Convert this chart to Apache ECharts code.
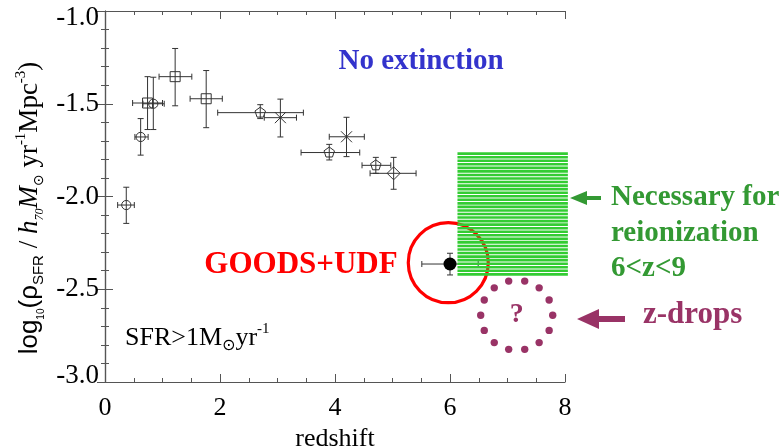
<!DOCTYPE html>
<html>
<head>
<meta charset="utf-8">
<script src="https://cdn.jsdelivr.net/npm/echarts@6/dist/echarts.min.js"></script>
<style>
  html, body { margin: 0; padding: 0; background: #fff; }
  #chart { width: 783px; height: 448px; }
</style>
</head>
<body>
<div id="chart"></div>
<script>
// Star-formation rate density vs redshift.
// Each row: [redshift, log10 rhoSFR, zLow, zHigh, logLow, logHigh]
const openCircles = [
  [0.37, -2.046, 0.22, 0.51, -2.145, -1.950],
  [0.62, -1.679, 0.52, 0.75, -1.777, -1.580],
  [0.84, -1.500, 0.66, 1.03, -1.639, -1.357]
];
const squares = [
  [0.74, -1.496, 0.48, 1.00, -1.639, -1.354],
  [1.22, -1.354, 0.94, 1.51, -1.511, -1.202],
  [1.76, -1.473, 1.48, 2.04, -1.629, -1.321]
];
const pentagons = [
  [2.70, -1.548, 1.96, 3.45, -1.580, -1.505],
  [3.90, -1.763, 3.41, 4.43, -1.803, -1.719],
  [4.71, -1.832, 4.47, 4.97, -1.875, -1.789]
];
const crosses = [
  [3.05, -1.575, 2.77, 3.33, -1.679, -1.475],
  [4.20, -1.678, 3.90, 4.51, -1.785, -1.573]
];
const diamonds = [
  [5.02, -1.875, 4.61, 5.41, -1.961, -1.789]
];
const goodsUdf = [
  [6.00, -2.364, 5.51, 6.49, -2.423, -2.306]
];
// Band needed for reionization at 6<z<9: [zStart, zEnd, logTop, logBottom]
const reionBand = [[6.13, 8.05, -1.762, -2.432]];
// Highlight rings: [redshift, log10 rhoSFR]
const goodsRing = [[5.97, -2.357]];
const zdropRing = [[7.16, -2.64]];

const xTicks = [0, 2, 4, 6, 8];
const yTicks = [-3.0, -2.5, -2.0, -1.5, -1.0];

const SERIF = '"Liberation Serif", "DejaVu Serif", serif';
const SANS = '"Liberation Sans", Arial, sans-serif';
const INK = '#333';

function markerShape(kind, x, y) {
  const st = { fill: 'none', stroke: INK, lineWidth: 1 };
  if (kind === 'circle') return { type: 'circle', shape: { cx: x, cy: y, r: 4.6 }, style: st };
  if (kind === 'filled') return { type: 'circle', shape: { cx: x, cy: y, r: 6.5 }, style: { fill: '#000' } };
  if (kind === 'square') return { type: 'rect', shape: { x: x - 5, y: y - 5, width: 10, height: 10 }, style: st };
  if (kind === 'diamond') return { type: 'polygon', shape: { points: [[x, y - 6.5], [x + 6.5, y], [x, y + 6.5], [x - 6.5, y]] }, style: st };
  if (kind === 'pentagon') {
    const pts = [];
    for (let i = 0; i < 5; i++) {
      const a = -Math.PI / 2 + i * 2 * Math.PI / 5;
      pts.push([x + 5.5 * Math.cos(a), y + 5.5 * Math.sin(a)]);
    }
    return { type: 'polygon', shape: { points: pts }, style: st };
  }
  // 'cross' : an X marker
  return {
    type: 'group', children: [
      { type: 'line', shape: { x1: x - 5.5, y1: y - 5.5, x2: x + 5.5, y2: y + 5.5 }, style: { stroke: INK, lineWidth: 1 } },
      { type: 'line', shape: { x1: x - 5.5, y1: y + 5.5, x2: x + 5.5, y2: y - 5.5 }, style: { stroke: INK, lineWidth: 1 } }
    ]
  };
}

function errorSeries(name, data, kind, z) {
  return {
    name: name,
    type: 'custom',
    data: data,
    z: z || 10,
    encode: { x: [0, 2, 3], y: [1, 4, 5] },
    renderItem: function (params, api) {
      const c = api.coord([api.value(0), api.value(1)]);
      const xl = api.coord([api.value(2), api.value(1)]);
      const xh = api.coord([api.value(3), api.value(1)]);
      const yl = api.coord([api.value(0), api.value(4)]);
      const yh = api.coord([api.value(0), api.value(5)]);
      const cap = 3;
      const ls = { stroke: INK, lineWidth: 1 };
      return {
        type: 'group',
        children: [
          { type: 'line', shape: { x1: xl[0], y1: c[1], x2: xh[0], y2: c[1] }, style: ls },
          { type: 'line', shape: { x1: xl[0], y1: c[1] - cap, x2: xl[0], y2: c[1] + cap }, style: ls },
          { type: 'line', shape: { x1: xh[0], y1: c[1] - cap, x2: xh[0], y2: c[1] + cap }, style: ls },
          { type: 'line', shape: { x1: c[0], y1: yl[1], x2: c[0], y2: yh[1] }, style: ls },
          { type: 'line', shape: { x1: c[0] - cap, y1: yl[1], x2: c[0] + cap, y2: yl[1] }, style: ls },
          { type: 'line', shape: { x1: c[0] - cap, y1: yh[1], x2: c[0] + cap, y2: yh[1] }, style: ls },
          markerShape(kind, c[0], c[1])
        ]
      };
    }
  };
}

const axisCommon = {
  type: 'value',
  axisLine: { show: true, lineStyle: { color: '#555', width: 1.2 } },
  axisTick: { show: true, inside: true, length: 8, lineStyle: { color: '#555' } },
  minorTick: { show: true, length: 4, lineStyle: { color: '#555' } },
  splitLine: { show: false }
};

// y tick labels: the end labels sit a little inside the frame
function yLabel(v) {
  const s = v.toFixed(1);
  if (v === yTicks[yTicks.length - 1]) return '{hi|' + s + '}';
  if (v === yTicks[0]) return '{lo|' + s + '}';
  return '{m|' + s + '}';
}

const chart = echarts.init(document.getElementById('chart'), null, { renderer: 'canvas' });

const option = {
  backgroundColor: '#fff',
  animation: false,
  grid: { left: 105, top: 11, width: 460, height: 371, containLabel: false, outerBoundsMode: 'none' },
  xAxis: [
    Object.assign({}, axisCommon, {
      min: xTicks[0], max: xTicks[xTicks.length - 1], interval: 2, position: 'bottom',
      minorTick: Object.assign({}, axisCommon.minorTick, { splitNumber: 4 }),
      axisLabel: { color: '#000', fontFamily: SERIF, fontSize: 26, margin: 13 },
      name: 'redshift', nameLocation: 'middle', nameGap: 37,
      nameTextStyle: { color: '#000', fontFamily: SERIF, fontSize: 26 }
    }),
    Object.assign({}, axisCommon, {
      min: xTicks[0], max: xTicks[xTicks.length - 1], interval: 2, position: 'top',
      minorTick: Object.assign({}, axisCommon.minorTick, { splitNumber: 4 }),
      axisLabel: { show: false }
    })
  ],
  yAxis: [
    Object.assign({}, axisCommon, {
      min: yTicks[0], max: yTicks[yTicks.length - 1], interval: 0.5, position: 'left',
      minorTick: Object.assign({}, axisCommon.minorTick, { splitNumber: 5 }),
      axisLabel: {
        color: '#000', margin: 6, formatter: yLabel,
        rich: {
          m: { fontFamily: SERIF, fontSize: 27 },
          hi: { fontFamily: SERIF, fontSize: 27, padding: [14, 0, 0, 0] },
          lo: { fontFamily: SERIF, fontSize: 27, padding: [0, 0, 12, 0] }
        }
      }
    }),
    Object.assign({}, axisCommon, {
      min: yTicks[0], max: yTicks[yTicks.length - 1], interval: 0.5, position: 'right',
      minorTick: Object.assign({}, axisCommon.minorTick, { splitNumber: 5 }),
      axisLabel: { show: false }
    })
  ],
  series: [
    {
      name: 'GOODS ring', type: 'custom', data: goodsRing, z: 3, clip: false,
      renderItem: function (params, api) {
        const c = api.coord([api.value(0), api.value(1)]);
        return { type: 'circle', shape: { cx: c[0], cy: c[1], r: 40 }, style: { fill: 'none', stroke: '#ff0000', lineWidth: 3.2 } };
      }
    },
    errorSeries('GOODS+UDF', goodsUdf, 'filled', 4),
    {
      name: 'Reionization', type: 'custom', data: reionBand, z: 5, clip: false,
      renderItem: function (params, api) {
        const p0 = api.coord([api.value(0), api.value(2)]);
        const p1 = api.coord([api.value(1), api.value(3)]);
        const children = [];
        const step = 3.55;
        for (let y = p0[1]; y < p1[1] - 0.5; y += step) {
          children.push({ type: 'rect', shape: { x: p0[0], y: y, width: p1[0] - p0[0], height: Math.min(2.6, p1[1] - y) }, style: { fill: '#33cc33' } });
        }
        return { type: 'group', children: children };
      }
    },
    {
      name: 'z-drops', type: 'custom', data: zdropRing, z: 6, clip: false,
      renderItem: function (params, api) {
        const c = api.coord([api.value(0), api.value(1)]);
        const children = [];
        const n = 14;
        for (let i = 0; i < n; i++) {
          const a = -Math.PI / 2 + Math.PI / n + i * 2 * Math.PI / n;
          children.push({ type: 'circle', shape: { cx: c[0] + 36 * Math.cos(a), cy: c[1] + 35 * Math.sin(a), r: 3.7 }, style: { fill: '#993366' } });
        }
        children.push({ type: 'text', style: { text: '?', x: c[0], y: c[1], align: 'center', verticalAlign: 'middle', fill: '#993366', font: 'bold 28px ' + SERIF } });
        return { type: 'group', children: children };
      }
    },
    errorSeries('Open circles', openCircles, 'circle'),
    errorSeries('Squares', squares, 'square'),
    errorSeries('Pentagons', pentagons, 'pentagon'),
    errorSeries('Crosses', crosses, 'cross'),
    errorSeries('Diamonds', diamonds, 'diamond')
  ],
  graphic: [
    // y-axis title
    {
      type: 'text', x: 30, y: 208, rotation: Math.PI / 2,
      style: {
        text: '{a|log}{s|10}{a|(ρ}{sb|SFR}{c| / }{i|h}{si|70}{i|M}{sun|⊙}{c| yr}{sp|-1}{c|Mpc}{sp|-3}{c|)}',
        align: 'center', verticalAlign: 'middle', fill: '#000',
        rich: {
          a: { fontFamily: SANS, fontSize: 26, lineHeight: 32, verticalAlign: 'middle' },
          s: { fontFamily: SANS, fontSize: 10, lineHeight: 14, verticalAlign: 'bottom' },
          sb: { fontFamily: SANS, fontSize: 15, lineHeight: 18, verticalAlign: 'bottom' },
          c: { fontFamily: SERIF, fontSize: 27, lineHeight: 32, verticalAlign: 'middle' },
          i: { fontFamily: SERIF, fontStyle: 'italic', fontSize: 27, lineHeight: 32, verticalAlign: 'middle' },
          si: { fontFamily: SERIF, fontStyle: 'italic', fontSize: 12, lineHeight: 14, verticalAlign: 'bottom' },
          sun: { fontFamily: '"DejaVu Sans", sans-serif', fontSize: 14, lineHeight: 16, verticalAlign: 'bottom' },
          sp: { fontFamily: SERIF, fontSize: 15, lineHeight: 16, verticalAlign: 'top' }
        }
      }
    },
    {
      type: 'text', x: 421, y: 62,
      style: { text: 'No extinction', align: 'center', verticalAlign: 'middle', fill: '#3333cc', font: 'bold 29px ' + SERIF }
    },
    {
      type: 'text', x: 301, y: 265,
      style: { text: 'GOODS+UDF', align: 'center', verticalAlign: 'middle', fill: '#ff0000', font: 'bold 31px ' + SERIF }
    },
    {
      type: 'text', x: 125, y: 338,
      style: {
        text: '{a|SFR>1M}{s|⊙}{a|yr}{p|-1}',
        align: 'left', verticalAlign: 'middle', fill: '#000',
        rich: {
          a: { fontFamily: SERIF, fontSize: 26, lineHeight: 32, verticalAlign: 'middle' },
          s: { fontFamily: '"DejaVu Sans", sans-serif', fontSize: 16, lineHeight: 18, verticalAlign: 'bottom' },
          p: { fontFamily: SERIF, fontSize: 15, lineHeight: 16, verticalAlign: 'top' }
        }
      }
    },
    {
      type: 'text', x: 611, y: 198,
      style: { text: 'Necessary for', align: 'left', verticalAlign: 'middle', fill: '#339933', font: 'bold 29px ' + SERIF }
    },
    {
      type: 'text', x: 611, y: 234,
      style: { text: 'reionization', align: 'left', verticalAlign: 'middle', fill: '#339933', font: 'bold 29px ' + SERIF }
    },
    {
      type: 'text', x: 611, y: 269,
      style: { text: '6<z<9', align: 'left', verticalAlign: 'middle', fill: '#339933', font: 'bold 29px ' + SERIF }
    },
    {
      type: 'text', x: 643, y: 315,
      style: { text: 'z-drops', align: 'left', verticalAlign: 'middle', fill: '#993366', font: 'bold 31px ' + SERIF }
    },
    // arrows pointing at the plot edge
    {
      type: 'polygon',
      shape: { points: [[570, 198], [587, 191], [587, 196], [601, 196], [601, 200], [587, 200], [587, 205]] },
      style: { fill: '#339933' }
    },
    {
      type: 'polygon',
      shape: { points: [[577, 319], [599, 309], [599, 316], [625, 316], [625, 322], [599, 322], [599, 329]] },
      style: { fill: '#993366' }
    }
  ]
};

chart.setOption(option);
</script>
</body>
</html>
